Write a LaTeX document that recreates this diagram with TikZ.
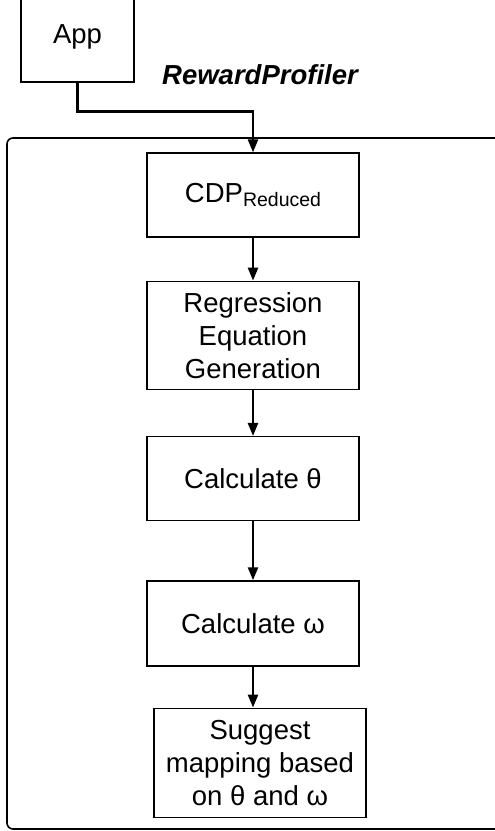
\documentclass[tikz,border=0pt]{standalone}
\usepackage{fontspec}
\setmainfont{Liberation Sans}
\usetikzlibrary{positioning,arrows.meta}

\begin{document}
\begin{tikzpicture}[
    x=1pt, y=-1pt,
    node distance = 43pt,
    box/.style={draw, line width=1.3pt, align=center, minimum width=212pt, font=\fontsize{27.5}{33}\selectfont},
    flow/.style={line width=2.4pt, -{Triangle[length=13pt,width=10pt]}},
]

% Fix the page to the size of the reference
\useasboundingbox (0,0) rectangle (495,831);

% App box at the top left (its top edge runs off the page)
\node[box, minimum width=113pt, minimum height=90pt] (app) at (77.5,37) {App};

% Title of the profiler frame
\node[font=\fontsize{27.5}{30}\selectfont\bfseries\itshape] (title) at (260,75) {RewardProfiler};

% Frame round the profiler steps
\draw[line width=1.6pt, rounded corners=6pt] (7,138) rectangle (520,829);

% Steps of the profiler
\node[box, minimum height=84pt] (cdp) at (253,195) {CDP\raisebox{-0.3ex}{\fontsize{19.5}{20}\selectfont Reduced}};

\node[box, minimum height=108pt, below=of cdp] (regression) {
    Regression\\
    Equation\\
    Generation
};

\node[box, minimum height=84pt, below=46pt of regression] (theta) {Calculate θ};

\node[box, minimum height=85pt, below=59pt of theta] (omega) {Calculate ω};

\node[box, minimum height=109pt, below=41pt of omega, xshift=7pt] (suggest) {
    Suggest\\
    mapping based\\
    on θ and ω
};

% Connectors
\draw[flow] (app.south) -- ++(0,29) -| (cdp.north);
\draw[flow] (cdp) -- (regression);
\draw[flow] (regression) -- (theta);
\draw[flow] (theta) -- (omega);
\draw[flow] (omega.south) -- (omega.south |- suggest.north);

\end{tikzpicture}
\end{document}
